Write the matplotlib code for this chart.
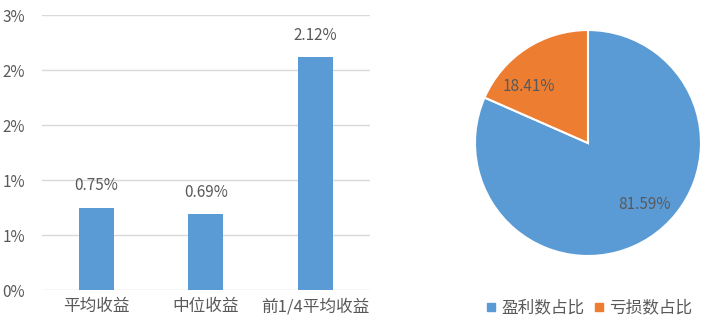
import matplotlib
matplotlib.use("Agg")
import matplotlib.pyplot as plt
from matplotlib.lines import Line2D

plt.rcParams['font.family'] = ['Noto Sans CJK SC', 'DejaVu Sans']

# 数据
类别 = ["平均收益", "中位收益", "前1/4平均收益"]
收益 = [0.75, 0.69, 2.12]
刻度 = [0, 0.5, 1.0, 1.5, 2.0, 2.5]
刻度标签 = ["0%", "1%", "1%", "2%", "2%", "3%"]

饼标签 = ["盈利数占比", "亏损数占比"]
饼值 = [81.59, 18.41]

蓝 = "#5B9BD5"
橙 = "#ED7D31"
字色 = "#595959"
网格 = "#D9D9D9"

fig = plt.figure(figsize=(7.15, 3.35), dpi=100)

# 柱状图
ax = fig.add_axes([0.0587, 0.1343, 0.4588, 0.8209])
x = range(len(类别))
ax.bar(x, 收益, width=0.32, color=蓝, zorder=3)
for i, v in zip(x, 收益):
    ax.text(i, v + 0.12, f"{v:.2f}%", ha="center", va="bottom",
            fontsize=11, color=字色)
ax.set_xlim(-0.5, len(类别) - 0.5)
ax.set_ylim(0, 2.5)
ax.set_yticks(刻度)
ax.set_yticklabels(刻度标签, fontsize=11, color=字色)
ax.set_xticks(list(x))
ax.set_xticklabels(类别, fontsize=12, color=字色)
ax.tick_params(length=0)
ax.tick_params(axis="y", pad=12)
ax.tick_params(axis="x", pad=6)
ax.grid(axis="y", color=网格, linewidth=1, zorder=0)
for s in ax.spines.values():
    s.set_visible(False)

# 饼图
ax2 = fig.add_axes([0.6643, 0.2358, 0.3161, 0.6746])
wedges, texts = ax2.pie(饼值, colors=[蓝, 橙], startangle=90, counterclock=False,
                        wedgeprops=dict(edgecolor="white", linewidth=1.5))
ax2.text(0.5, -0.54, f"{饼值[0]:.2f}%", ha="center", va="center", fontsize=11, color=字色)
ax2.text(-0.52, 0.5, f"{饼值[1]:.2f}%", ha="center", va="center", fontsize=11, color=字色)
ax2.set_xlim(-1, 1)
ax2.set_ylim(-1, 1)
ax2.set_aspect("equal")

句柄 = [Line2D([], [], marker="s", linestyle="", markersize=6, color=c) for c in (蓝, 橙)]
fig.legend(句柄, 饼标签, loc="center", bbox_to_anchor=(0.822, 0.08), ncol=2,
           frameon=False, fontsize=12, labelcolor=字色, handletextpad=0.1,
           columnspacing=0.4, handlelength=1.0)

fig.savefig("out.png", dpi=100, facecolor="white")
